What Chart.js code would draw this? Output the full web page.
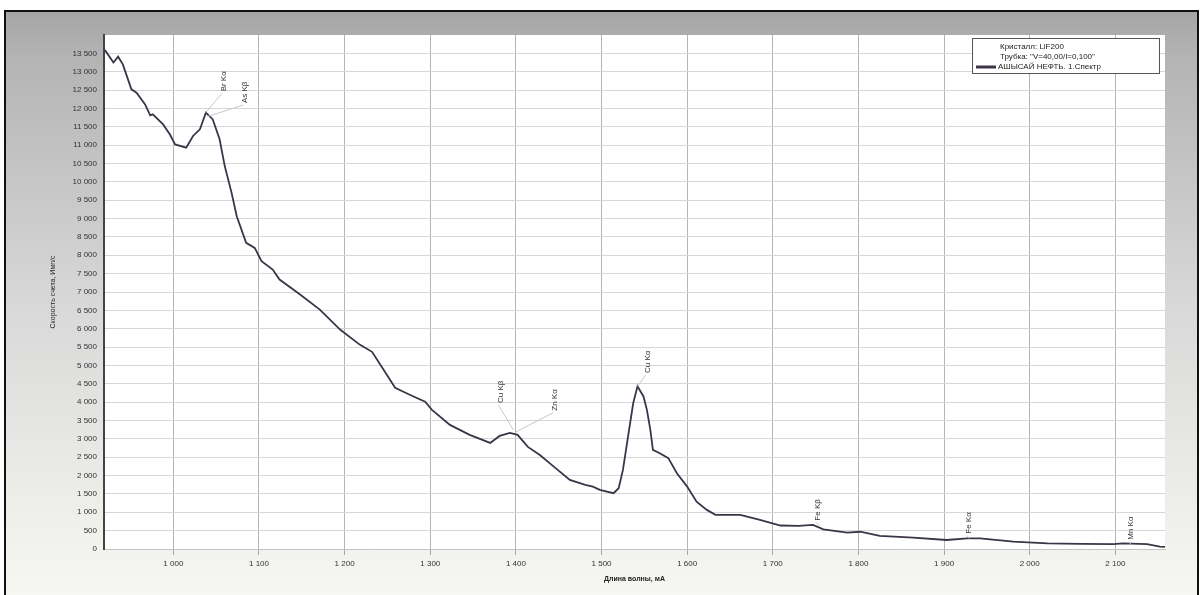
<!DOCTYPE html>
<html>
<head>
<meta charset="utf-8">
<script src="https://cdn.jsdelivr.net/npm/chart.js@4"></script>
<style>
html, body { margin: 0; padding: 0; background: #fff; }
#myChart { display: block; }
</style>
</head>
<body>
<canvas id="myChart" width="1200" height="595"></canvas>
<script>
// длина волны, мА
var dlina = [919, 921, 930, 935.5, 941, 951, 957, 967, 973, 976, 988, 996, 1002, 1015, 1023, 1031, 1038, 1046, 1054, 1060,
  1068, 1074, 1085, 1095, 1103, 1116, 1124, 1148, 1171, 1195, 1218, 1232, 1247, 1259, 1276, 1294, 1302, 1323, 1346, 1370,
  1381, 1393, 1402, 1414, 1428, 1446, 1463, 1481, 1490, 1498, 1514, 1520, 1525, 1531, 1537, 1542, 1549, 1553, 1557, 1560,
  1568, 1578, 1588, 1600, 1611, 1623, 1633, 1646, 1662, 1685, 1709, 1730, 1747, 1759, 1787, 1802, 1825, 1864, 1903, 1927,
  1942, 1981, 2021, 2060, 2098, 2109, 2137, 2152, 2158];
// скорость счета, имп/с
var skorost = [13600, 13560, 13250, 13410, 13200, 12520, 12430, 12110, 11810, 11840, 11565, 11290, 11020, 10930, 11250, 11430, 11885, 11700, 11160, 10430,
  9700, 9065, 8340, 8200, 7840, 7610, 7340, 6930, 6520, 5970, 5560, 5370, 4830, 4390, 4200, 4010, 3790, 3380, 3110, 2890,
  3080, 3160, 3110, 2780, 2560, 2210, 1880, 1745, 1700, 1610, 1520, 1655, 2155, 3065, 3975, 4430, 4155, 3790, 3245, 2700,
  2610, 2475, 2065, 1700, 1290, 1065, 930, 930, 930, 790, 640, 630, 655, 535, 445, 470, 355, 310, 245, 290,
  290, 200, 155, 140, 135, 155, 135, 65, 60];

// подписи линий
var liniiNazv = ['Br Kα', 'As Kβ', 'Cu Kβ', 'Zn Kα', 'Cu Kα', 'Fe Kβ', 'Fe Kα', 'Mn Kα'];
var liniiX = [1059, 1084, 1382, 1446, 1554, 1753, 1929, 2118];
var liniiY = [12740, 12440, 4280, 4060, 5100, 1065, 710, 570];
var liniiPikX = [1038, 1040, 1397, 1400, 1542, 1755, 1930, 2118];
var liniiPikY = [11890, 11780, 3245, 3190, 4430, 640, 290, 130];

var legendaStroki = ['Кристалл: LiF200', 'Трубка: "V=40,00/I=0,100"'];
var nazvSpektra = 'АШЫСАЙ НЕФТЬ. 1.Спектр';

var shrift = '"Liberation Sans", Arial, sans-serif';

function probel(v) {
  return String(v).replace(/\B(?=(\d{3})+(?!\d))/g, ' ');
}

var fon = {
  id: 'fon',
  beforeDraw: function (chart) {
    var ctx = chart.ctx;
    var a = chart.chartArea;
    ctx.save();
    ctx.fillStyle = '#fff';
    ctx.fillRect(0, 0, 1200, 595);
    var g = ctx.createLinearGradient(0, 12, 0, 595);
    g.addColorStop(0, '#a6a6a6');
    g.addColorStop(0.08, '#b4b4b4');
    g.addColorStop(0.5, '#d8d8d8');
    g.addColorStop(0.92, '#f2f2ee');
    g.addColorStop(1, '#f6f6f2');
    ctx.fillStyle = g;
    ctx.fillRect(5, 11, 1193, 584);
    ctx.fillStyle = '#fff';
    ctx.fillRect(a.left, a.top, a.right - a.left, a.bottom - a.top);
    ctx.strokeStyle = '#111';
    ctx.lineWidth = 2;
    ctx.strokeRect(5, 11, 1193, 590);
    ctx.restore();
  }
};

var podpisi = {
  id: 'podpisi',
  afterDatasetsDraw: function (chart) {
    var ctx = chart.ctx;
    var sx = chart.scales.x;
    var sy = chart.scales.y;
    ctx.save();
    ctx.font = '8px ' + shrift;
    for (var i = 0; i < liniiNazv.length; i++) {
      var tx = sx.getPixelForValue(liniiX[i]);
      var ty = sy.getPixelForValue(liniiY[i]);
      var w = ctx.measureText(liniiNazv[i]).width;
      ctx.strokeStyle = '#cfc6cf';
      ctx.lineWidth = 1;
      ctx.beginPath();
      ctx.moveTo(tx - 2, ty + w / 2 + 2);
      ctx.lineTo(sx.getPixelForValue(liniiPikX[i]), sy.getPixelForValue(liniiPikY[i]));
      ctx.stroke();
      ctx.save();
      ctx.translate(tx, ty);
      ctx.rotate(-Math.PI / 2);
      ctx.fillStyle = '#333';
      ctx.textAlign = 'center';
      ctx.textBaseline = 'middle';
      ctx.fillText(liniiNazv[i], 0, 0);
      ctx.restore();
    }
    ctx.restore();
  }
};

var legenda = {
  id: 'legenda',
  afterDraw: function (chart) {
    var ctx = chart.ctx;
    ctx.save();
    ctx.fillStyle = '#fff';
    ctx.fillRect(972, 38, 187, 35);
    ctx.strokeStyle = '#555';
    ctx.lineWidth = 1;
    ctx.strokeRect(972.5, 38.5, 187, 35);
    ctx.fillStyle = '#222';
    ctx.font = '8px ' + shrift;
    ctx.textBaseline = 'middle';
    ctx.fillText(legendaStroki[0], 1000, 47);
    ctx.fillText(legendaStroki[1], 1000, 57);
    ctx.strokeStyle = '#3d3448';
    ctx.lineWidth = 3;
    ctx.beginPath();
    ctx.moveTo(976, 67);
    ctx.lineTo(996, 67);
    ctx.stroke();
    ctx.fillText(nazvSpektra, 998, 67);
    ctx.restore();
  }
};

var ctx = document.getElementById('myChart').getContext('2d');
var myChart = new Chart(ctx, {
  type: 'line',
  data: {
    datasets: [{
      label: nazvSpektra,
      data: dlina.map(function (d, i) { return { x: d, y: skorost[i] }; }),
      borderColor: '#3d3448',
      borderWidth: 1.8,
      pointRadius: 0,
      fill: false,
      tension: 0
    }]
  },
  options: {
    responsive: false,
    animation: false,
    devicePixelRatio: 1,
    layout: { padding: { left: 0, right: 35, top: 35, bottom: 0 } },
    plugins: {
      legend: { display: false },
      tooltip: { enabled: false }
    },
    scales: {
      x: {
        type: 'linear',
        min: 919,
        max: 2158,
        afterFit: function (s) { s.height = 46; },
        ticks: {
          stepSize: 100,
          includeBounds: false,
          maxRotation: 0,
          padding: 4,
          color: '#333',
          font: { family: shrift, size: 8 },
          callback: function (v) { return probel(v); }
        },
        grid: { color: '#b4b4b4', tickColor: '#aaa', tickLength: 6 },
        border: { color: '#c4c4c4' },
        title: {
          display: true,
          text: 'Длина волны, мА',
          color: '#222',
          font: { family: shrift, size: 7, weight: 'bold' },
          padding: { top: 0, bottom: 12 }
        }
      },
      y: {
        type: 'linear',
        min: 0,
        max: 14000,
        afterFit: function (s) { s.width = 104; },
        ticks: {
          stepSize: 500,
          padding: 7,
          color: '#333',
          font: { family: shrift, size: 8 },
          callback: function (v) { return v >= 14000 ? null : probel(v); }
        },
        grid: { color: '#d6d6d6', drawTicks: false },
        border: { color: '#444', width: 2 },
        title: {
          display: true,
          text: 'Скорость счета, Имп/с',
          color: '#222',
          font: { family: shrift, size: 7 },
          padding: { top: 49, bottom: 0 }
        }
      }
    }
  },
  plugins: [fon, podpisi, legenda]
});
</script>
</body>
</html>
